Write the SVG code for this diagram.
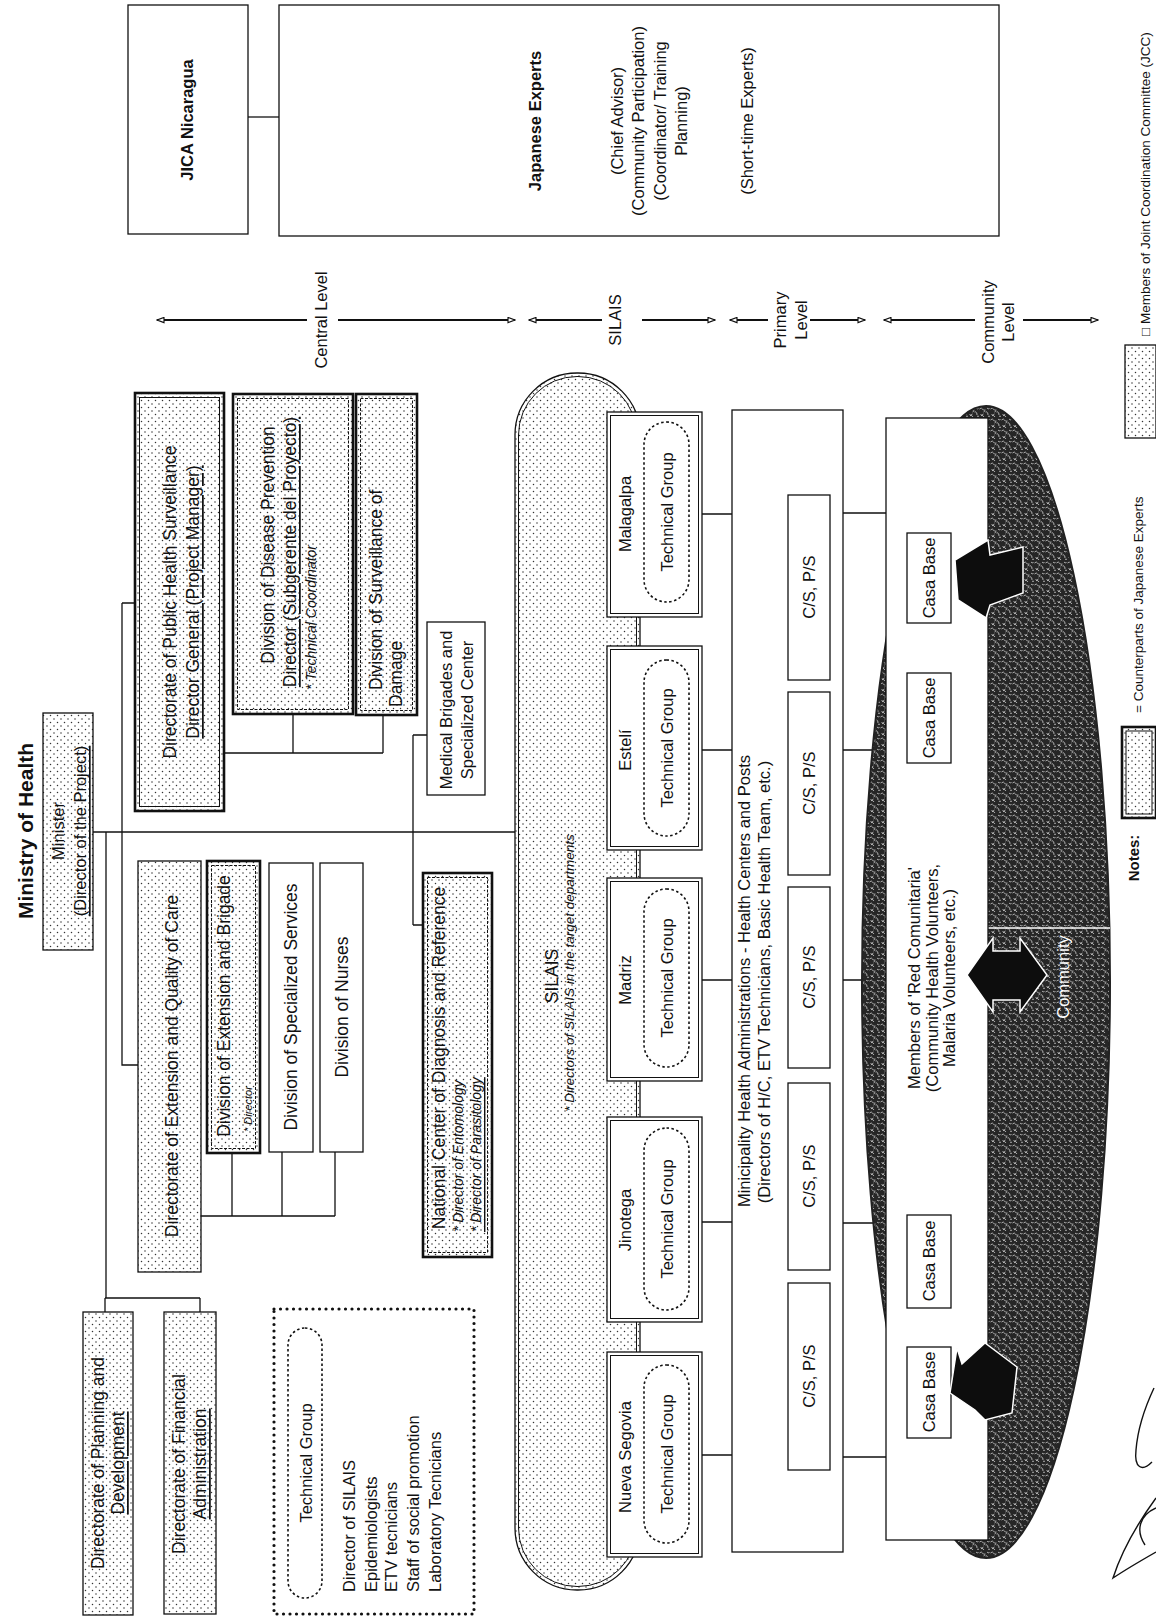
<svg xmlns="http://www.w3.org/2000/svg" width="1156" height="1620" viewBox="0 0 1156 1620">
<style>
.t{font-family:"Liberation Sans",Arial,Helvetica,sans-serif;font-size:16.5px;text-anchor:middle;dominant-baseline:central;fill:#111}
.org{font-size:17.5px}
.b{font-weight:bold}
.i{font-style:italic;font-size:14px}
.s{text-anchor:start}
.u{text-decoration:underline}
.sm{font-size:13.5px}
.box{fill:#fff;stroke:#111;stroke-width:1.3}
.dot{fill:url(#dots);stroke:#111;stroke-width:1.3}
.thick{fill:none;stroke:#111;stroke-width:2.6}
.dash{fill:none;stroke:#111;stroke-width:1;stroke-dasharray:3 1.5}
.inner{fill:none;stroke:#111;stroke-width:1}
.pill{fill:none;stroke:#111;stroke-width:1.6;stroke-dasharray:2.5 2.5}
.ln{fill:none;stroke:#111;stroke-width:1.3}
.lvl{fill:none;stroke:#111;stroke-width:2}
.arr{fill:#0d0d0d;stroke:#fff;stroke-width:1.5}
</style>
<defs>
<pattern id="dots" width="7" height="7" patternUnits="userSpaceOnUse">
<rect width="7" height="7" fill="#fff"/>
<circle cx="1.5" cy="1.5" r="0.75" fill="#333"/>
<circle cx="5" cy="5" r="0.75" fill="#333"/>
</pattern>
<pattern id="tex" width="11" height="11" patternUnits="userSpaceOnUse">
<rect width="11" height="11" fill="#262626"/>
<path d="M0.5,2 q2,-2 3,0 t3,1 M1.5,7 q1,2.5 3,0 M7,4.5 q2.5,1 2,3.5 M5,10 q-1,-2 -3,-1.5 M8,1 q1,1.5 2.5,0.5 M4.5,5 q1,-1.2 2,0 M9,9 q1,1 2,0" stroke="#d8d8d8" stroke-width="0.75" fill="none"/>
</pattern>
<marker id="ah" viewBox="0 0 10 8" refX="9" refY="4" markerWidth="9" markerHeight="7" markerUnits="userSpaceOnUse" orient="auto-start-reverse">
<path d="M1,1 L9,4 L1,7 z" fill="#fff" stroke="#111" stroke-width="1.3"/>
</marker>
</defs>
<rect width="1156" height="1620" fill="#fff"/>

<!-- connectors -->
<g id="connectors">
<path class="ln" d="M248,117 H279"/>
<path class="ln" d="M93,832 H515"/>
<path class="ln" d="M122,603 H135 M122,603 V1065 H138"/>
<path class="ln" d="M106,832 V1298 M105,1298 H200 M105,1298 V1312 M200,1298 V1312"/>
<path class="ln" d="M413,735 V925 M413,735 H427 M413,925 H423"/>
<path class="ln" d="M224,753 H383 M293,714 V753 M383,715 V753"/>
<path class="ln" d="M201,1216 H335 M232,1153 V1216 M282,1152 V1216 M335,1152 V1216"/>
<path class="ln" d="M634.5,617 V646 M637.5,617 V646 M634.5,850 V878 M637.5,850 V878 M634.5,1081 V1117 M637.5,1081 V1117 M634.5,1322 V1352 M637.5,1322 V1352"/>
<path class="ln" d="M702,514 H732 M702,750 H732 M702,980 H732 M702,1222 H732 M702,1455 H732"/>
<path class="ln" d="M843,513 H886 M843,750 H886 M843,980 H886 M843,1223 H886 M843,1457 H886"/>
</g>

<!-- level arrows -->
<g id="levels">
<path class="lvl" d="M307,320 H157" marker-end="url(#ah)"/>
<path class="lvl" d="M338,320 H515" marker-end="url(#ah)"/>
<text class="t" transform="translate(321,320) rotate(-90)">Central Level</text>
<path class="lvl" d="M602,320 H529" marker-end="url(#ah)"/>
<path class="lvl" d="M642,320 H715" marker-end="url(#ah)"/>
<text class="t" transform="translate(615,320) rotate(-90)">SILAIS</text>
<path class="lvl" d="M768,320 H730" marker-end="url(#ah)"/>
<path class="lvl" d="M810,320 H865" marker-end="url(#ah)"/>
<text class="t" transform="translate(780,320) rotate(-90)">Primary</text>
<text class="t" transform="translate(801,320) rotate(-90)">Level</text>
<path class="lvl" d="M975,320 H884" marker-end="url(#ah)"/>
<path class="lvl" d="M1023,320 H1098" marker-end="url(#ah)"/>
<text class="t" transform="translate(988,322) rotate(-90)">Community</text>
<text class="t" transform="translate(1008,322) rotate(-90)">Level</text>
</g>

<g id="jica">
<rect class="box" x="128" y="5" width="120" height="229"/>
<text class="t b" transform="translate(187,120) rotate(-90)">JICA Nicaragua</text>
</g>
<g id="japanese-experts">
<rect class="box" x="279" y="5" width="720" height="231"/>
<text class="t b" transform="translate(535,121) rotate(-90)">Japanese Experts</text>
<text class="t" transform="translate(617,121) rotate(-90)">(Chief Advisor)</text>
<text class="t" transform="translate(638,121) rotate(-90)">(Community Participation)</text>
<text class="t" transform="translate(660,121) rotate(-90)">(Coordinator/ Training</text>
<text class="t" transform="translate(681,121) rotate(-90)">Planning)</text>
<text class="t" transform="translate(747,121) rotate(-90)">(Short-time Experts)</text>
</g>

<g id="ministry">
<text class="t b" style="font-size:21px" transform="translate(25,831) rotate(-90)">Ministry of Health</text>
<rect class="dot" x="43" y="713" width="50" height="237"/>
<text class="t" transform="translate(58,831) rotate(-90)">Minister</text>
<text class="t u" transform="translate(80,831) rotate(-90)">(Director of the Project)</text>
</g>

<g id="public-health">
<rect class="dot" x="135" y="393" width="89" height="418"/>
<rect class="thick" x="135" y="393" width="89" height="418"/>
<rect class="inner" x="139.5" y="397.5" width="80" height="409"/>
<text class="t org" transform="translate(170,602) rotate(-90)">Directorate of Public Health Surveillance</text>
<text class="t org u" transform="translate(193,602) rotate(-90)">Director General (Project Manager)</text>
</g>

<g id="disease-prevention">
<rect class="dot" x="233" y="394" width="120" height="320"/>
<rect class="thick" x="233" y="394" width="120" height="320"/>
<rect class="dash" x="237.5" y="398.5" width="111" height="311"/>
<text class="t org" transform="translate(268,545) rotate(-90)">Division of Disease Prevention</text>
<text class="t org u" transform="translate(290,552) rotate(-90)">Director (Subgerente del Proyecto)</text>
<text class="t i s" transform="translate(311,690) rotate(-90)">* Technical Coordinator</text>
</g>

<g id="surveillance-damage">
<rect class="dot" x="356" y="394" width="61" height="321"/>
<rect class="thick" x="356" y="394" width="61" height="321"/>
<rect class="dash" x="360.5" y="398.5" width="52" height="312"/>
<text class="t org s" transform="translate(376,690) rotate(-90)">Division of Surveillance of</text>
<text class="t org s" transform="translate(396,707) rotate(-90)">Damage</text>
</g>

<g id="medical-brigades">
<rect class="box" x="427" y="622" width="58" height="173"/>
<text class="t" transform="translate(446,710) rotate(-90)">Medical Brigades and</text>
<text class="t" transform="translate(467,710) rotate(-90)">Specialized Center</text>
</g>

<g id="extension-quality">
<rect class="dot" x="138" y="861" width="63" height="411"/>
<text class="t org" transform="translate(172,1066) rotate(-90)">Directorate of Extension and Quality of Care</text>
</g>

<g id="extension-brigade">
<rect class="dot" x="207" y="861" width="53" height="292"/>
<rect class="thick" x="207" y="861" width="53" height="292"/>
<rect class="dash" x="211.5" y="865.5" width="44" height="283"/>
<text class="t org" transform="translate(224,1006) rotate(-90)">Division of Extension and Brigade</text>
<text class="t i s" style="font-size:11px" transform="translate(248,1132) rotate(-90)">* Director</text>
</g>

<g id="specialized-services">
<rect class="box" x="269" y="863" width="44" height="289"/>
<text class="t org" transform="translate(291,1007) rotate(-90)">Division of Specialized Services</text>
</g>

<g id="nurses">
<rect class="box" x="320" y="863" width="43" height="289"/>
<text class="t org" transform="translate(342,1007) rotate(-90)">Division of Nurses</text>
</g>

<g id="national-center">
<rect class="dot" x="423" y="873" width="69" height="384"/>
<rect class="thick" x="423" y="873" width="69" height="384"/>
<rect class="dash" x="427.5" y="877.5" width="60" height="375"/>
<text class="t org" transform="translate(439,1058) rotate(-90)">National Center of Diagnosis and Reference</text>
<text class="t i s" transform="translate(458,1232) rotate(-90)">* Director of Entomology</text>
<text class="t i s u" transform="translate(476,1232) rotate(-90)">* Director of Parasitology</text>
</g>

<g id="planning">
<rect class="dot" x="83" y="1312" width="50" height="303"/>
<text class="t org" transform="translate(98,1463) rotate(-90)">Directorate of Planning and</text>
<text class="t org u" transform="translate(118,1463) rotate(-90)">Development</text>
</g>

<g id="financial">
<rect class="dot" x="164" y="1312" width="52" height="302"/>
<text class="t org" transform="translate(179,1464) rotate(-90)">Directorate of Financial</text>
<text class="t org u" transform="translate(200,1464) rotate(-90)">Administration</text>
</g>

<g id="technical-group-legend">
<rect x="274" y="1309" width="200" height="305" fill="none" stroke="#111" stroke-width="3.2" stroke-linecap="round" stroke-dasharray="0 6.5"/>
<rect class="pill" x="288" y="1328" width="34" height="270" rx="17"/>
<text class="t" transform="translate(306,1463) rotate(-90)">Technical Group</text>
<text class="t s" transform="translate(349,1592) rotate(-90)">Director of SILAIS</text>
<text class="t s" transform="translate(371,1592) rotate(-90)">Epidemiologists</text>
<text class="t s" transform="translate(391,1592) rotate(-90)">ETV tecnicians</text>
<text class="t s" transform="translate(413,1592) rotate(-90)">Staff of social promotion</text>
<text class="t s" transform="translate(435,1592) rotate(-90)">Laboratory Tecnicians</text>
</g>

<g id="silais">
<rect class="dot" x="515" y="373" width="125" height="1217" rx="62" stroke-width="1.6"/>
<rect class="inner" x="518.5" y="376.5" width="118" height="1210" rx="58.5"/>
<text class="t org" transform="translate(552,976) rotate(-90)">SILAIS</text>
<text class="t i" style="font-size:13.5px" transform="translate(569,973) rotate(-90)">* Directors of SILAIS in the target departments</text>
</g>

<g id="matagalpa">
<rect class="box" x="607" y="412" width="95" height="205"/>
<rect class="inner" x="610.5" y="415.5" width="88" height="198"/>
<text class="t" transform="translate(625,514) rotate(-90)">Malagalpa</text>
<rect class="pill" x="644" y="422" width="45" height="180" rx="22.5"/>
<text class="t" transform="translate(667,512) rotate(-90)">Technical Group</text>
</g>
<g id="esteli">
<rect class="box" x="607" y="646" width="95" height="204"/>
<rect class="inner" x="610.5" y="649.5" width="88" height="197"/>
<text class="t" transform="translate(625,750) rotate(-90)">Estelí</text>
<rect class="pill" x="644" y="660" width="45" height="176" rx="22.5"/>
<text class="t" transform="translate(667,748) rotate(-90)">Technical Group</text>
</g>
<g id="madriz">
<rect class="box" x="607" y="878" width="95" height="203"/>
<rect class="inner" x="610.5" y="881.5" width="88" height="196"/>
<text class="t" transform="translate(625,980) rotate(-90)">Madriz</text>
<rect class="pill" x="644" y="889" width="45" height="178" rx="22.5"/>
<text class="t" transform="translate(667,978) rotate(-90)">Technical Group</text>
</g>
<g id="jinotega">
<rect class="box" x="607" y="1117" width="95" height="205"/>
<rect class="inner" x="610.5" y="1120.5" width="88" height="198"/>
<text class="t" transform="translate(625,1220) rotate(-90)">Jinotega</text>
<rect class="pill" x="644" y="1128" width="45" height="182" rx="22.5"/>
<text class="t" transform="translate(667,1219) rotate(-90)">Technical Group</text>
</g>
<g id="nueva-segovia">
<rect class="box" x="607" y="1352" width="95" height="205"/>
<rect class="inner" x="610.5" y="1355.5" width="88" height="198"/>
<text class="t" transform="translate(625,1457) rotate(-90)">Nueva Segovia</text>
<rect class="pill" x="644" y="1365" width="45" height="178" rx="22.5"/>
<text class="t" transform="translate(667,1454) rotate(-90)">Technical Group</text>
</g>

<g id="municipality">
<rect class="box" x="732" y="410" width="111" height="1142"/>
<text class="t" transform="translate(744,981) rotate(-90)">Minicipality Health Administrations - Health Centers and Posts</text>
<text class="t" transform="translate(764,982) rotate(-90)">(Directors of H/C, ETV Technicians, Basic Health Team, etc.)</text>
</g>
<g id="cs-1"><rect class="box" x="788" y="495" width="42" height="185"/><text class="t" transform="translate(809,587) rotate(-90)">C/S, P/S</text></g>
<g id="cs-2"><rect class="box" x="788" y="692" width="42" height="183"/><text class="t" transform="translate(809,783) rotate(-90)">C/S, P/S</text></g>
<g id="cs-3"><rect class="box" x="788" y="887" width="42" height="181"/><text class="t" transform="translate(809,977) rotate(-90)">C/S, P/S</text></g>
<g id="cs-4"><rect class="box" x="788" y="1083" width="42" height="187"/><text class="t" transform="translate(809,1176) rotate(-90)">C/S, P/S</text></g>
<g id="cs-5"><rect class="box" x="788" y="1283" width="42" height="187"/><text class="t" transform="translate(809,1376) rotate(-90)">C/S, P/S</text></g>

<g id="community">
<ellipse cx="986" cy="982" rx="124" ry="576" fill="url(#tex)" stroke="#222" stroke-width="2"/>
<path d="M988,928 H1110" stroke="#fff" stroke-width="1.5"/>
<text class="t" style="fill:#fff" transform="translate(1063,977) rotate(-90)">Community</text>
</g>

<g id="red-comunitaria">
<rect class="box" x="886" y="418" width="102" height="1122"/>
<text class="t" transform="translate(914,978) rotate(-90)">Members of 'Red Comunitaria'</text>
<text class="t" transform="translate(932,978) rotate(-90)">(Community Health Volunteers,</text>
<text class="t" transform="translate(949,978) rotate(-90)">Malaria Volunteers, etc.)</text>
</g>
<g id="casa-1"><rect class="box" x="907" y="533" width="44" height="90"/><text class="t" transform="translate(929,578) rotate(-90)">Casa Base</text></g>
<g id="casa-2"><rect class="box" x="907" y="673" width="44" height="90"/><text class="t" transform="translate(929,718) rotate(-90)">Casa Base</text></g>
<g id="casa-3"><rect class="box" x="907" y="1215" width="44" height="93"/><text class="t" transform="translate(929,1261) rotate(-90)">Casa Base</text></g>
<g id="casa-4"><rect class="box" x="907" y="1347" width="44" height="91"/><text class="t" transform="translate(929,1392) rotate(-90)">Casa Base</text></g>

<g id="block-arrows">
<polygon class="arr" points="955,560 988,540 990,555 1023,547 1023,593 990,605 986,618 958,600"/>
<polygon class="arr" points="967,975 993,938 993,951 1020,951 1020,938 1047,975 1020,1012 1020,1000 993,1000 993,1012"/>
<polygon class="arr" points="950,1393 957,1348 962,1364 985,1343 1017,1367 1012,1413 985,1420 975,1410"/>
</g>

<g id="notes">
<text class="t b" style="font-size:15px" transform="translate(1133,858) rotate(-90)">Notes:</text>
<rect class="dot" x="1122" y="727" width="34" height="91"/>
<rect class="thick" x="1122" y="727" width="34" height="91"/>
<rect class="inner" x="1126" y="731" width="26" height="83"/>
<text class="t sm s" transform="translate(1138,713) rotate(-90)">= Counterparts of Japanese Experts</text>
<rect class="dot" x="1125" y="345" width="31" height="93"/>
<text class="t sm s" transform="translate(1145,336) rotate(-90)">□ Members of Joint Coordination Committee (JCC)</text>
</g>

<g id="signature" fill="none" stroke="#111" stroke-width="1.4">
<path d="M1154,1388 C1146,1405 1138,1425 1136,1450 C1134,1468 1142,1472 1152,1462"/>
<path d="M1156,1498 C1140,1520 1122,1550 1113,1578 C1128,1568 1142,1560 1156,1552"/>
<path d="M1156,1508 C1140,1515 1135,1530 1145,1545"/>
</g>
</svg>
